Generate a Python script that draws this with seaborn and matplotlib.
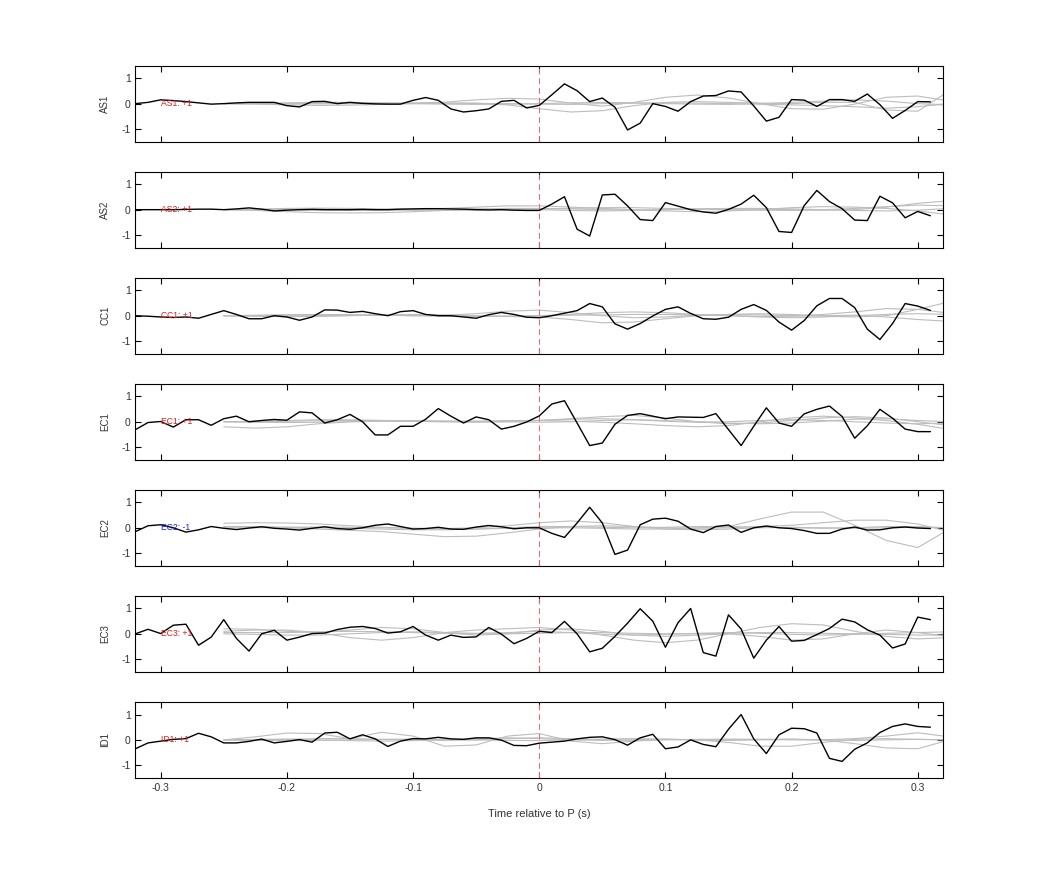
import numpy as np
import pandas as pd
import matplotlib
matplotlib.use('Agg')
import matplotlib.pyplot as plt
import seaborn as sns

# sample times of the observed traces and of the gray synthetic traces
t = np.round(np.arange(-0.32, 0.315, 0.01), 2)
tg = np.round(np.arange(-0.25, 0.33, 0.025), 3)

stations = ['AS1', 'AS2', 'CC1', 'EC1', 'EC2', 'EC3', 'ID1']
polarity = ['+1', '+1', '+1', '+1', '-1', '+1', '+1']

# observed traces (black)
as1 = [0.0, 0.05, 0.15, 0.12, 0.08, 0.03, -0.02, 0.0, 0.03, 0.05, 0.05, 0.05,
       -0.08, -0.13, 0.08, 0.09, 0.0, 0.05, 0.01, -0.01, -0.02, -0.02, 0.13, 0.24,
       0.13, -0.21, -0.33, -0.28, -0.21, 0.09, 0.13, -0.17, -0.07, 0.35, 0.78, 0.51,
       0.08, 0.22, -0.14, -1.04, -0.77, 0.0, -0.11, -0.3, 0.08, 0.3, 0.32, 0.5,
       0.46, -0.09, -0.69, -0.54, 0.16, 0.14, -0.11, 0.16, 0.16, 0.09, 0.38, -0.04,
       -0.58, -0.27, 0.08, 0.07]
as2 = [0.0, 0.0, 0.0, 0.0, 0.01, 0.02, 0.02, 0.0, 0.03, 0.07, 0.02, -0.05,
       -0.02, 0.0, 0.01, 0.0, 0.0, 0.0, 0.01, 0.0, 0.0, 0.02, 0.03, 0.04,
       0.04, 0.03, 0.02, 0.0, -0.01, 0.0, -0.02, -0.03, -0.03, 0.22, 0.51, -0.77,
       -1.04, 0.58, 0.61, 0.15, -0.39, -0.43, 0.28, 0.14, 0.0, -0.09, -0.14, 0.01,
       0.22, 0.57, 0.08, -0.86, -0.9, 0.16, 0.76, 0.32, 0.04, -0.41, -0.43, 0.53,
       0.27, -0.32, -0.07, -0.24]
cc1 = [0.0, -0.02, -0.05, -0.07, -0.05, -0.1, 0.05, 0.2, 0.05, -0.12, -0.12, 0.0,
       -0.05, -0.18, -0.05, 0.23, 0.22, 0.13, 0.17, 0.08, 0.0, 0.16, 0.2, 0.05,
       0.0, 0.0, -0.05, -0.1, 0.04, 0.13, 0.05, -0.06, -0.08, 0.0, 0.1, 0.2,
       0.48, 0.35, -0.32, -0.53, -0.31, -0.01, 0.25, 0.35, 0.09, -0.12, -0.14, -0.06,
       0.25, 0.44, 0.21, -0.25, -0.57, -0.19, 0.39, 0.68, 0.68, 0.32, -0.53, -0.94,
       -0.31, 0.48, 0.38, 0.21]
ec1 = [-0.31, -0.03, 0.01, -0.21, 0.08, 0.08, -0.14, 0.12, 0.22, 0.0, 0.05, 0.09,
       0.06, 0.39, 0.35, -0.05, 0.08, 0.29, 0.0, -0.52, -0.52, -0.18, -0.18, 0.1,
       0.52, 0.22, -0.05, 0.19, 0.08, -0.29, -0.18, -0.01, 0.23, 0.7, 0.83, -0.05,
       -0.94, -0.84, -0.1, 0.25, 0.32, 0.22, 0.12, 0.19, 0.18, 0.17, 0.32, -0.31,
       -0.94, -0.18, 0.55, -0.05, -0.18, 0.31, 0.49, 0.62, 0.21, -0.65, -0.16, 0.49,
       0.14, -0.29, -0.39, -0.39]
ec2 = [-0.15, 0.08, 0.12, 0.0, -0.17, -0.08, 0.05, -0.02, -0.07, -0.01, 0.04, -0.02,
       -0.05, -0.09, -0.02, 0.04, -0.03, -0.06, 0.0, 0.1, 0.15, 0.05, -0.05, -0.03,
       0.02, -0.05, -0.06, 0.03, 0.09, 0.04, -0.04, 0.0, 0.0, -0.22, -0.38, 0.19,
       0.81, 0.19, -1.05, -0.88, 0.12, 0.34, 0.38, 0.26, -0.05, -0.19, 0.05, 0.11,
       -0.18, 0.0, 0.07, 0.0, -0.03, -0.11, -0.22, -0.22, -0.05, 0.03, -0.09, -0.08,
       0.0, 0.03, -0.01, -0.03]
ec3 = [0.0, 0.18, 0.01, 0.34, 0.38, -0.45, -0.13, 0.56, -0.18, -0.68, 0.0, 0.14,
       -0.25, -0.13, 0.01, 0.03, 0.17, 0.26, 0.29, 0.21, 0.03, 0.08, 0.29, -0.05,
       -0.25, -0.05, -0.14, -0.12, 0.25, -0.01, -0.39, -0.18, 0.1, 0.05, 0.49, 0.0,
       -0.71, -0.57, -0.1, 0.42, 0.99, 0.5, -0.53, 0.44, 1.0, -0.74, -0.88, 0.75,
       0.19, -0.96, -0.25, 0.29, -0.29, -0.26, -0.03, 0.21, 0.58, 0.47, 0.16, -0.05,
       -0.56, -0.4, 0.66, 0.56]
id1 = [-0.35, -0.12, -0.05, 0.02, 0.05, 0.26, 0.12, -0.12, -0.12, -0.06, 0.03, -0.12,
       -0.06, 0.01, -0.09, 0.27, 0.3, 0.04, 0.2, 0.04, -0.26, -0.05, 0.05, 0.04,
       0.1, 0.04, 0.02, 0.08, 0.08, -0.01, -0.22, -0.23, -0.13, -0.09, -0.05, 0.04,
       0.1, 0.12, 0.01, -0.21, 0.08, 0.22, -0.35, -0.28, 0.0, -0.18, -0.27, 0.42,
       1.0, 0.04, -0.54, 0.2, 0.46, 0.44, 0.27, -0.73, -0.85, -0.37, -0.12, 0.29,
       0.53, 0.63, 0.53, 0.5]

# synthetic traces (gray), four per station
as1_syn = [
    [0.00, 0.01, 0.03, 0.05, 0.05, 0.03, 0.02, 0.06, 0.15, 0.21, 0.18, 0.02, -0.10, 0.05, 0.25, 0.34, 0.22, 0.00, -0.20, -0.22, -0.02, 0.25, 0.30, 0.10],
    [0.00, -0.02, -0.05, -0.07, -0.06, -0.03, 0.00, 0.02, 0.02, -0.05, -0.20, -0.33, -0.28, -0.08, 0.05, 0.08, 0.05, 0.02, 0.00, 0.05, 0.05, -0.25, -0.30, 0.50],
    [0.00, 0.00, 0.01, 0.02, 0.02, 0.01, 0.00, -0.02, -0.03, -0.02, 0.00, 0.03, 0.05, 0.03, 0.00, -0.02, -0.03, 0.00, 0.05, 0.10, 0.15, 0.10, 0.00, -0.05],
    [0.00, 0.00, -0.01, -0.01, 0.00, 0.01, 0.02, 0.02, 0.01, 0.00, -0.02, -0.03, 0.00, 0.02, 0.03, 0.02, 0.00, -0.02, -0.05, -0.08, -0.12, -0.18, -0.12, 0.00],
]
as2_syn = [
    [0.00, -0.03, -0.08, -0.12, -0.13, -0.12, -0.08, -0.03, 0.02, 0.05, 0.05, 0.03, 0.00, -0.02, 0.00, 0.02, 0.03, 0.02, 0.00, -0.02, 0.00, 0.10, 0.25, 0.35],
    [0.00, 0.02, 0.05, 0.06, 0.05, 0.03, 0.02, 0.05, 0.10, 0.15, 0.15, 0.10, 0.05, 0.00, -0.05, -0.08, -0.05, 0.00, 0.08, 0.12, 0.10, 0.05, -0.05, -0.20],
    [0.00, 0.00, 0.02, 0.03, 0.02, 0.00, -0.02, -0.03, -0.02, 0.00, 0.02, 0.05, 0.08, 0.08, 0.05, 0.02, 0.00, -0.02, -0.03, 0.00, 0.05, 0.12, 0.18, 0.15],
    [0.00, 0.01, 0.00, -0.02, -0.03, -0.02, 0.00, 0.02, 0.03, 0.02, 0.00, -0.03, -0.05, -0.03, 0.00, 0.03, 0.05, 0.05, 0.03, 0.00, -0.03, -0.05, -0.02, 0.05],
]
cc1_syn = [
    [0.00, 0.02, 0.04, 0.05, 0.04, 0.02, 0.00, 0.02, 0.08, 0.18, 0.22, 0.12, 0.00, -0.08, -0.05, 0.02, 0.05, 0.03, 0.00, 0.05, 0.15, 0.28, 0.25, 0.10],
    [0.00, -0.02, -0.04, -0.03, 0.00, 0.03, 0.05, 0.03, 0.00, -0.03, -0.05, -0.15, -0.28, -0.25, -0.12, 0.00, 0.05, 0.08, 0.05, -0.02, -0.05, 0.00, 0.25, 0.55],
    [0.00, 0.00, 0.02, 0.03, 0.03, 0.02, 0.00, -0.02, -0.03, -0.02, 0.00, 0.05, 0.12, 0.15, 0.12, 0.05, 0.00, -0.03, -0.02, 0.00, 0.02, -0.05, -0.15, -0.22],
    [0.00, 0.00, -0.01, 0.00, 0.01, 0.02, 0.02, 0.00, -0.02, -0.02, 0.00, 0.02, 0.03, 0.05, 0.05, 0.03, 0.00, -0.05, -0.08, -0.05, 0.00, 0.05, 0.08, 0.05],
]
ec1_syn = [
    [-0.20, -0.25, -0.20, -0.08, 0.00, 0.03, 0.02, 0.00, -0.02, 0.00, 0.05, 0.12, 0.20, 0.25, 0.15, 0.00, -0.08, -0.05, 0.05, 0.15, 0.20, 0.15, 0.00, -0.15],
    [0.00, 0.02, 0.05, 0.08, 0.08, 0.05, 0.02, 0.00, 0.02, 0.05, 0.05, 0.02, -0.02, -0.08, -0.15, -0.20, -0.15, 0.00, 0.15, 0.22, 0.15, 0.05, -0.10, -0.30],
    [0.00, 0.00, 0.02, 0.04, 0.05, 0.05, 0.04, 0.02, 0.00, 0.02, 0.05, 0.10, 0.12, 0.08, 0.02, -0.02, 0.00, 0.05, 0.08, 0.05, 0.00, -0.05, -0.08, -0.05],
    [0.00, -0.02, -0.03, -0.02, 0.00, 0.02, 0.03, 0.03, 0.02, 0.00, -0.02, 0.00, 0.05, 0.08, 0.05, 0.00, -0.05, -0.08, -0.05, 0.02, 0.10, 0.12, 0.05, 0.00],
]
ec2_syn = [
    [0.00, 0.00, 0.02, 0.03, 0.02, 0.00, -0.02, -0.05, -0.05, -0.02, 0.00, 0.00, -0.02, -0.05, -0.05, 0.00, 0.05, 0.35, 0.62, 0.62, 0.10, -0.50, -0.78, -0.05],
    [0.18, 0.20, 0.19, 0.15, 0.08, 0.02, -0.02, -0.03, 0.00, 0.08, 0.20, 0.27, 0.20, 0.05, -0.05, -0.08, -0.05, 0.00, 0.02, 0.00, -0.02, 0.00, 0.02, 0.00],
    [0.05, 0.03, 0.00, -0.05, -0.10, -0.15, -0.25, -0.35, -0.33, -0.20, -0.05, 0.05, 0.08, 0.05, 0.00, -0.02, 0.00, 0.05, 0.10, 0.20, 0.30, 0.30, 0.15, -0.15],
    [0.05, 0.05, 0.02, 0.00, -0.02, -0.05, -0.08, -0.08, -0.05, 0.00, 0.05, 0.05, 0.02, 0.00, 0.02, 0.05, 0.05, 0.02, 0.00, -0.02, 0.00, 0.05, 0.05, 0.00],
]
ec3_syn = [
    [0.10, 0.15, 0.15, 0.05, -0.15, -0.25, -0.15, 0.05, 0.15, 0.20, 0.25, 0.15, -0.05, -0.25, -0.35, -0.25, 0.00, 0.25, 0.40, 0.35, 0.10, -0.10, -0.20, -0.15],
    [0.20, 0.18, 0.10, 0.05, 0.15, 0.25, 0.20, 0.05, -0.05, 0.00, 0.15, 0.20, 0.10, -0.05, -0.10, -0.05, 0.00, -0.10, -0.25, -0.20, 0.00, 0.15, 0.05, -0.10],
    [0.05, 0.05, 0.05, 0.08, 0.10, 0.08, 0.05, 0.02, 0.00, 0.00, 0.02, 0.05, 0.05, 0.02, 0.00, 0.00, 0.02, 0.05, 0.05, 0.02, 0.00, -0.02, -0.05, -0.05],
    [0.00, -0.02, -0.05, -0.05, 0.00, 0.05, 0.08, 0.05, 0.02, 0.05, 0.10, 0.05, -0.02, -0.05, -0.02, 0.02, 0.05, 0.02, -0.02, -0.05, -0.02, 0.02, 0.05, 0.08],
]
id1_syn = [
    [0.00, 0.12, 0.27, 0.25, 0.05, 0.30, 0.15, -0.25, -0.20, 0.15, 0.25, -0.05, -0.15, -0.05, 0.02, 0.00, -0.02, 0.00, 0.02, 0.00, -0.02, 0.00, 0.02, 0.00],
    [0.00, 0.02, 0.03, 0.00, -0.03, -0.05, -0.03, 0.00, 0.05, 0.08, 0.05, 0.00, -0.02, 0.00, 0.02, 0.00, -0.10, -0.25, -0.25, -0.10, 0.02, 0.05, 0.02, 0.00],
    [0.00, -0.02, -0.03, -0.02, 0.00, 0.02, 0.03, 0.02, 0.00, -0.02, -0.03, 0.00, 0.03, 0.05, 0.03, 0.00, 0.00, 0.02, 0.03, 0.00, -0.15, -0.32, -0.35, 0.00],
    [0.00, 0.00, 0.02, 0.05, 0.05, 0.02, 0.00, -0.02, 0.00, 0.05, 0.08, 0.05, 0.00, -0.02, 0.00, 0.02, 0.03, 0.02, 0.00, 0.00, 0.05, 0.15, 0.28, 0.12],
]

obs = [as1, as2, cc1, ec1, ec2, ec3, id1]
syn = [as1_syn, as2_syn, cc1_syn, ec1_syn, ec2_syn, ec3_syn, id1_syn]

sns.set_style('ticks')
plt.rcParams['font.family'] = ['Liberation Sans', 'DejaVu Sans']

fig, axes = plt.subplots(7, 1, figsize=(10.42, 8.75), dpi=100, sharex=True)
fig.subplots_adjust(left=0.13, right=0.905, top=0.925, bottom=0.111, hspace=0.395)

for ax, name, pol, y, gs in zip(axes, stations, polarity, obs, syn):
    for g in gs:
        sns.lineplot(x=tg, y=g, ax=ax, color='#bdbdbd', linewidth=0.8, zorder=1)
    sns.lineplot(x=t, y=y, ax=ax, color='black', linewidth=1.0, zorder=3)
    # P arrival marker
    ax.axvline(0, color='#ee6464', linestyle=(0, (6, 4)), linewidth=0.7, zorder=2)
    col = '#dd1c1c' if pol == '+1' else '#1c1cdd'
    ax.text(-0.3, 0, name + ': ' + pol, color=col, fontsize=6.2, va='center', ha='left', zorder=4)
    ax.set_xlim(-0.32, 0.32)
    ax.set_ylim(-1.5, 1.5)
    ax.set_yticks([-1, 0, 1])
    ax.set_yticklabels(['-1', '0', '1'])
    ax.set_ylabel(name, fontsize=7, color='#333333', labelpad=8)
    ax.tick_params(direction='in', length=4, width=0.8, top=True, right=True,
                   labelsize=7.5, colors='black', labelcolor='#333333')
    for s in ax.spines.values():
        s.set_visible(True)
        s.set_linewidth(0.8)
        s.set_color('black')

axes[-1].set_xticks([-0.3, -0.2, -0.1, 0, 0.1, 0.2, 0.3])
axes[-1].set_xticklabels(['-0.3', '-0.2', '-0.1', '0', '0.1', '0.2', '0.3'])
axes[-1].set_xlabel('Time relative to P (s)', fontsize=8, color='#333333', labelpad=12)

fig.savefig('out.png', dpi=100)
